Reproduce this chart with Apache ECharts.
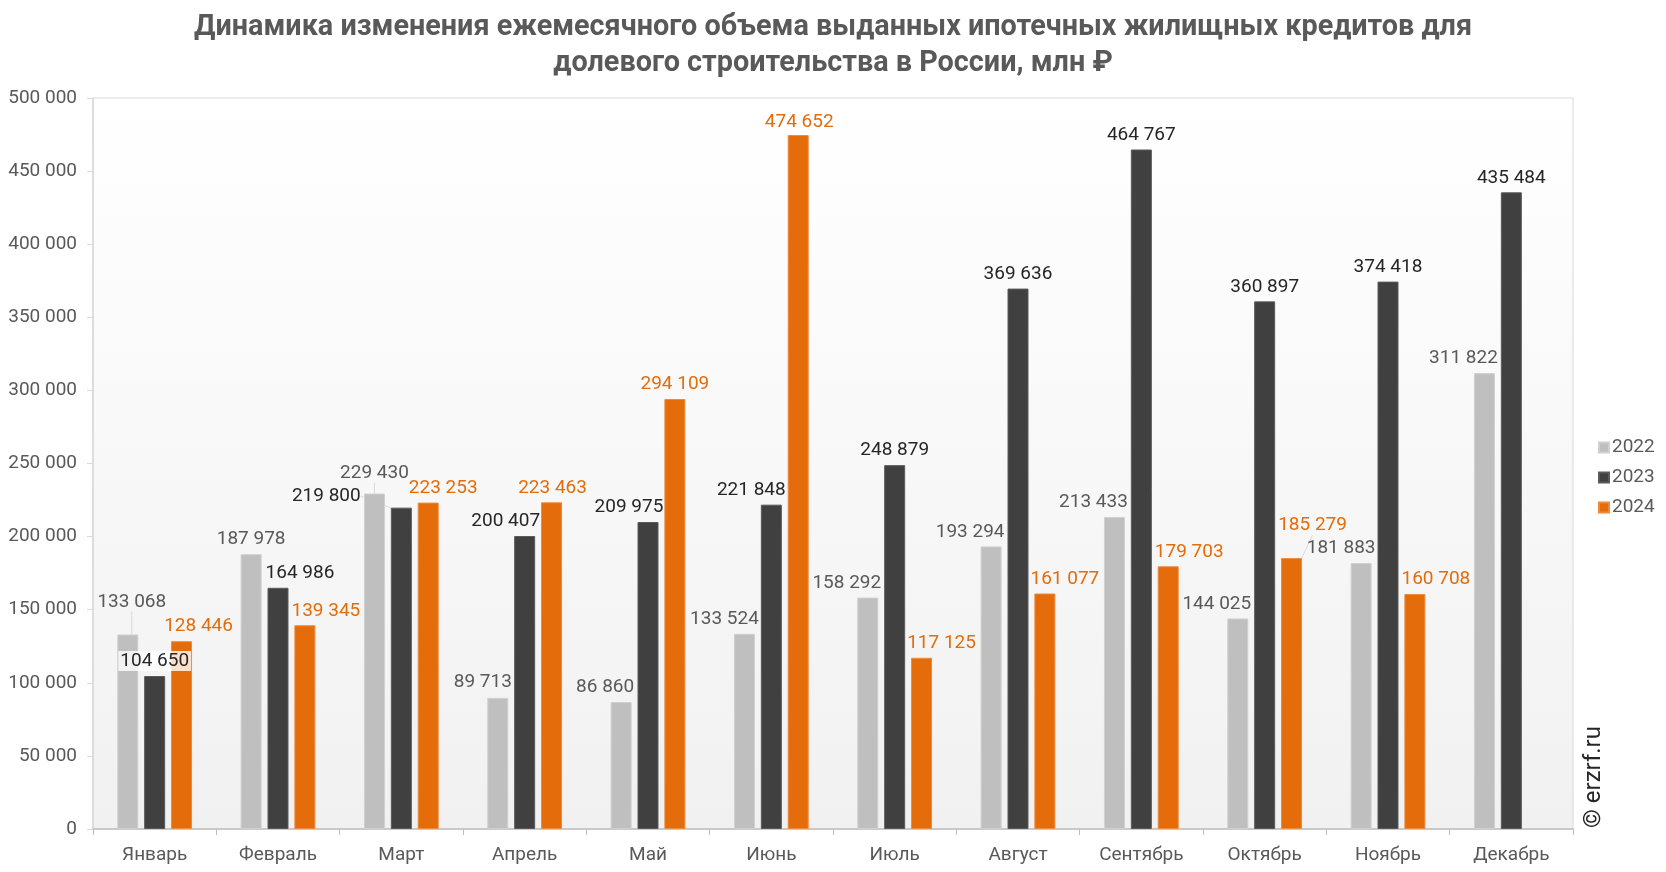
<!DOCTYPE html>
<html>
<head>
<meta charset="utf-8">
<script src="https://cdn.jsdelivr.net/npm/echarts@6/dist/echarts.min.js"></script>
<style>
html,body{margin:0;padding:0;background:#fff;}
#chart{width:1666px;height:872px;}
</style>
</head>
<body>
<div id="chart"></div>
<script>
// ---- data ----
const months = ['Январь','Февраль','Март','Апрель','Май','Июнь','Июль','Август','Сентябрь','Октябрь','Ноябрь','Декабрь'];
const seriesNames = ['2022','2023','2024'];
const values2022 = [133068,187978,229430,89713,86860,133524,158292,193294,213433,144025,181883,311822];
const values2023 = [104650,164986,219800,200407,209975,221848,248879,369636,464767,360897,374418,435484];
const values2024 = [128446,139345,223253,223463,294109,474652,117125,161077,179703,185279,160708,null];
const yTicks = [0,50000,100000,150000,200000,250000,300000,350000,400000,450000,500000];
const titleLines = ['Динамика изменения ежемесячного объема выданных ипотечных жилищных кредитов для','долевого строительства в России, млн ₽'];
const watermark = '© erzrf.ru';

// ---- label placement (manual adjustments like in the source) ----
const labelShift = {
  '0-0':[4,-18],'0-2':[0,-6],'0-3':[-15,-1],'0-4':[-16,0],'0-5':[-20,0],'0-6':[-21,0],'0-7':[-21,0],
  '0-8':[-21,0],'0-9':[-21,0],'0-10':[-20,0],'0-11':[-21,0],
  '1-1':[22,0],'1-2':[-75,3],'1-3':[-19,0],'1-4':[-19,0],'1-5':[-20,0],
  '2-0':[17,0],'2-1':[21,0],'2-2':[15,0],'2-3':[1,0],'2-5':[1,2],'2-6':[20,0],'2-7':[20,0],
  '2-8':[21,0],'2-9':[21,-18],'2-10':[21,0]
};
const withLine = {'0-0':1,'0-2':1,'1-2':1,'2-9':1};
const withBg = {'1-0':1};

const fmt = v => String(v).replace(/\B(?=(\d{3})+(?!\d))/g, ' ');
const FONT = 'Roboto, "Noto Sans", sans-serif';
const colors = ['#BFBFBF','#404040','#E46C0A'];
const borders = ['#D0D0D0','#5A5A5A','#EE8A3C'];
const labelColors = ['#595959','#262626','#E46C0A'];
const allValues = [values2022, values2023, values2024];

function buildData(si, arr){
  return arr.map((v, di) => {
    const key = si + '-' + di;
    const item = {value: v};
    if (withBg[key]) item.label = {backgroundColor:'rgba(255,255,255,0.8)', padding:[1,2,0,2]};
    if (withLine[key]) item.labelLine = {show:true, lineStyle:{color:'#D9D9D9', width:1}};
    return item;
  });
}

const chart = echarts.init(document.getElementById('chart'), null, {renderer:'canvas'});

const series = allValues.map((arr, si) => ({
  name: seriesNames[si],
  type: 'bar',
  barWidth: 21,
  barGap: '28%',
  data: buildData(si, arr),
  itemStyle: {color: colors[si], borderColor: borders[si], borderWidth: 1},
  label: {
    show: true, position: 'top', distance: 5,
    color: labelColors[si], fontFamily: FONT, fontSize: 19,
    formatter: p => (p.value == null ? '' : fmt(p.value))
  },
  labelLine: {show:false},
  labelLayout: function(params){
    const s = labelShift[params.seriesIndex + '-' + params.dataIndex];
    return s ? {dx: s[0], dy: s[1]} : {};
  }
}));

const option = {
  backgroundColor: '#ffffff',
  animation: false,
  grid: {
    left: 93, right: 93, top: 98, bottom: 43,
    show: true, borderColor: '#D9D9D9', borderWidth: 1,
    backgroundColor: new echarts.graphic.LinearGradient(0,0,0,1,[
      {offset:0,color:'#FFFFFF'},{offset:1,color:'#F1F1F1'}
    ])
  },
  legend: {
    orient: 'vertical', left: 1593, top: 433,
    itemWidth: 10, itemHeight: 10, itemGap: 11, icon: 'rect',
    textStyle: {color:'#595959', fontFamily: FONT, fontSize: 19, padding:[0,0,0,-2]},
    data: seriesNames
  },
  xAxis: {
    type: 'category', data: months,
    axisLine: {show:true, lineStyle:{color:'#BFBFBF', width:1.5}},
    axisTick: {show:true, length:6, lineStyle:{color:'#BFBFBF'}},
    axisLabel: {color:'#595959', fontFamily: FONT, fontSize: 19, margin: 17},
    splitLine: {show:false}
  },
  yAxis: {
    type: 'value', min: yTicks[0], max: yTicks[yTicks.length-1], interval: yTicks[1]-yTicks[0],
    axisLine: {show:true, lineStyle:{color:'#D9D9D9', width:1.5}},
    axisTick: {show:true, length:6, lineStyle:{color:'#D9D9D9'}},
    axisLabel: {color:'#595959', fontFamily: FONT, fontSize: 19, margin: 16, formatter: v => fmt(v)},
    splitLine: {show:false}
  },
  graphic: [
    {type:'text', left:'center', top: 13,
      style:{text:titleLines[0], font:'bold 28.8px Roboto, sans-serif', fill:'#595959'}},
    {type:'text', left:'center', top: 49,
      style:{text:titleLines[1], font:'bold 28.8px Roboto, sans-serif', fill:'#595959'}},
    {type:'text', x: 1582, y: 828, rotation: Math.PI/2,
      style:{text:watermark, font:'24px Roboto, sans-serif', fill:'#262626', textVerticalAlign:'top'}}
  ],
  series: series
};
chart.setOption(option);
</script>
</body>
</html>
